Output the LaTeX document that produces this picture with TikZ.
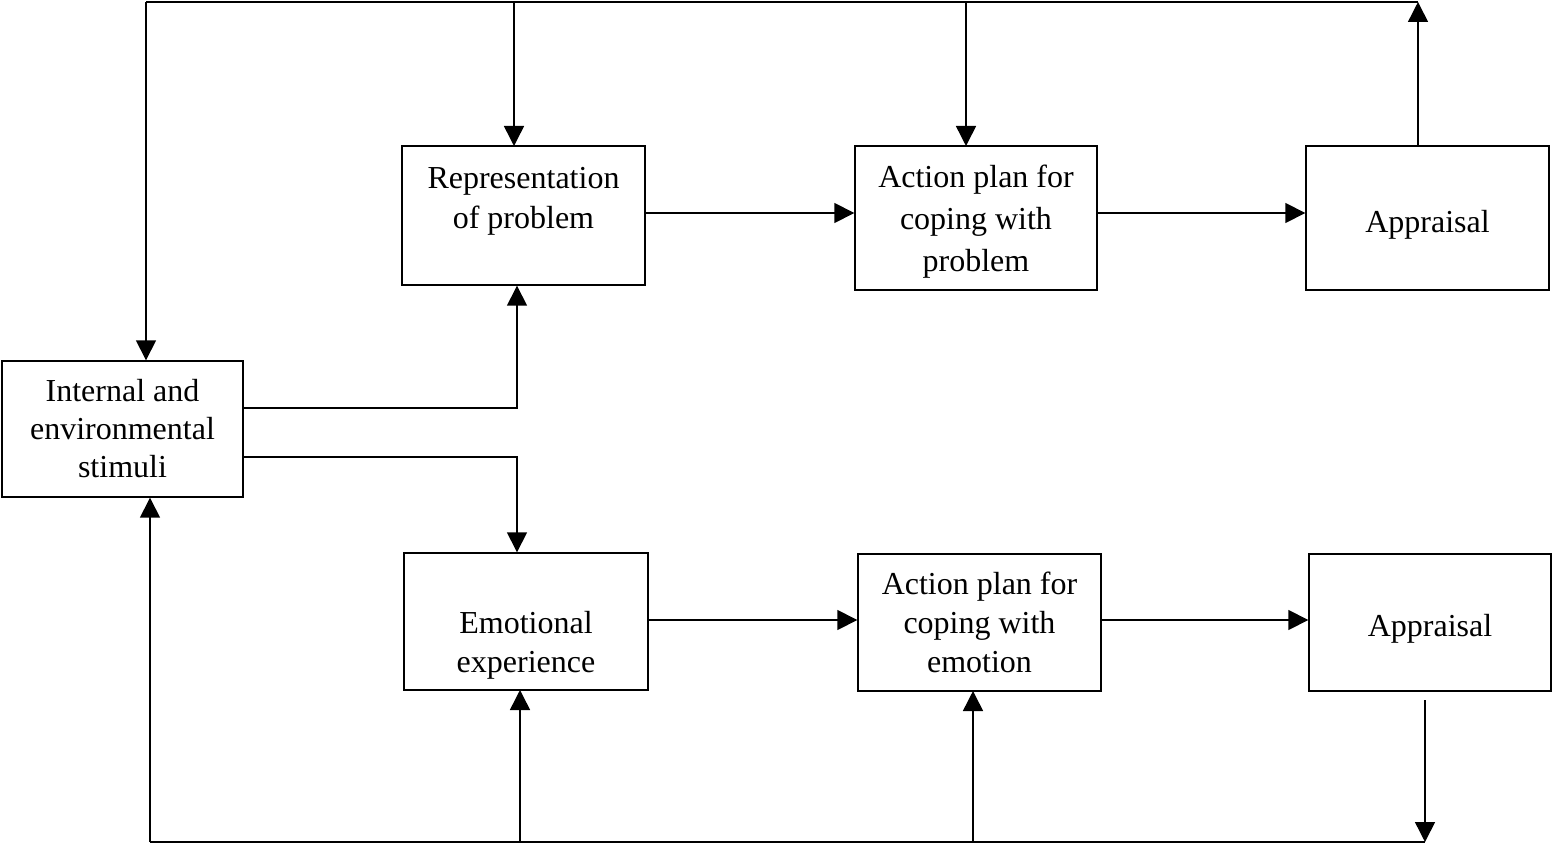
\documentclass[tikz,border=0pt]{standalone}
\usepackage{fontspec}
\setmainfont{Liberation Serif}
\usetikzlibrary{arrows.meta}
\begin{document}
\begin{tikzpicture}[x=1pt,y=-1pt,
  box/.style={draw,line width=1.4pt,inner sep=0pt},
  txt/.style={inner sep=0pt,align=center,font=\fontsize{32}{40}\selectfont},
  conn/.style={line width=1.5pt},
  arr/.style={conn,-{Triangle[length=20pt,width=20pt]}}]
\useasboundingbox (0,0) rectangle (1552,848);
% process boxes
\node[box,minimum width=241pt,minimum height=136pt] (stim) at (122.5,429) {};
\node[box,minimum width=243pt,minimum height=139pt] (rep) at (523.5,215.5) {};
\node[box,minimum width=242pt,minimum height=144pt] (apl) at (976,218) {};
\node[box,minimum width=243pt,minimum height=144pt] (ap1) at (1427.5,218) {};
\node[box,minimum width=244pt,minimum height=137pt] (emo) at (526,621.5) {};
\node[box,minimum width=243pt,minimum height=137pt] (ape) at (979.5,622.5) {};
\node[box,minimum width=242pt,minimum height=137pt] (ap2) at (1430,622.5) {};
% box texts
\node[txt,font=\fontsize{32}{38}\selectfont] (stim-t) at (stim) {Internal and\\environmental\\stimuli};
\node[txt,yshift=14pt] (rep-t) at (rep) {Representation\\of problem};
\node[txt,yshift=-4pt,font=\fontsize{32}{42}\selectfont] (apl-t) at (apl) {Action plan for\\coping with\\problem};
\node[txt,yshift=-7pt] (ap1-t) at (ap1) {Appraisal};
\node[txt,yshift=-24pt,font=\fontsize{32}{39}\selectfont] (emo-t) at (emo) {Emotional\\experience};
\node[txt,font=\fontsize{32}{39}\selectfont] (ape-t) at (ape) {Action plan for\\coping with\\emotion};
\node[txt,yshift=-6pt] (ap2-t) at (ap2) {Appraisal};
% feedback rails
\coordinate (tl) at (146,2);
\coordinate (tr) at (1418,2);
\coordinate (bl) at (150,842);
\coordinate (br) at (1425,842);
\coordinate (ap2s) at (1425,700);
% top feedback loop
\draw[arr] (ap1.north -| tr) -- (tr);
\draw[conn] (tl) -- (tr);
\draw[arr] (tl) -- (stim.north -| tl);
\draw[arr] (tl -| rep.north) ++(-9.5,0) -- ++(0,144);
\draw[arr] (apl.north |- tl) ++(-10,0) -- ++(0,144);
% bottom feedback loop
\draw[arr] (ap2s) -- (br);
\draw[conn] (bl) -- (br);
\draw[arr] (bl) -- (stim.south -| bl);
\draw[arr] (520,842) -- (520,690);
\draw[arr] (973,842) -- (973,691);
% stimuli branches
\draw[arr] (stim.east |- 0,408) -| (rep.south -| 517,0);
\draw[arr] (stim.east |- 0,457) -| (emo.north -| 517,0);
% forward chains
\draw[arr] (rep.east |- 0,213) -- (apl.west |- 0,213);
\draw[arr] (apl.east |- 0,213) -- (ap1.west |- 0,213);
\draw[arr] (emo.east |- 0,620) -- (ape.west |- 0,620);
\draw[arr] (ape.east |- 0,620) -- (ap2.west |- 0,620);
\end{tikzpicture}
\end{document}
